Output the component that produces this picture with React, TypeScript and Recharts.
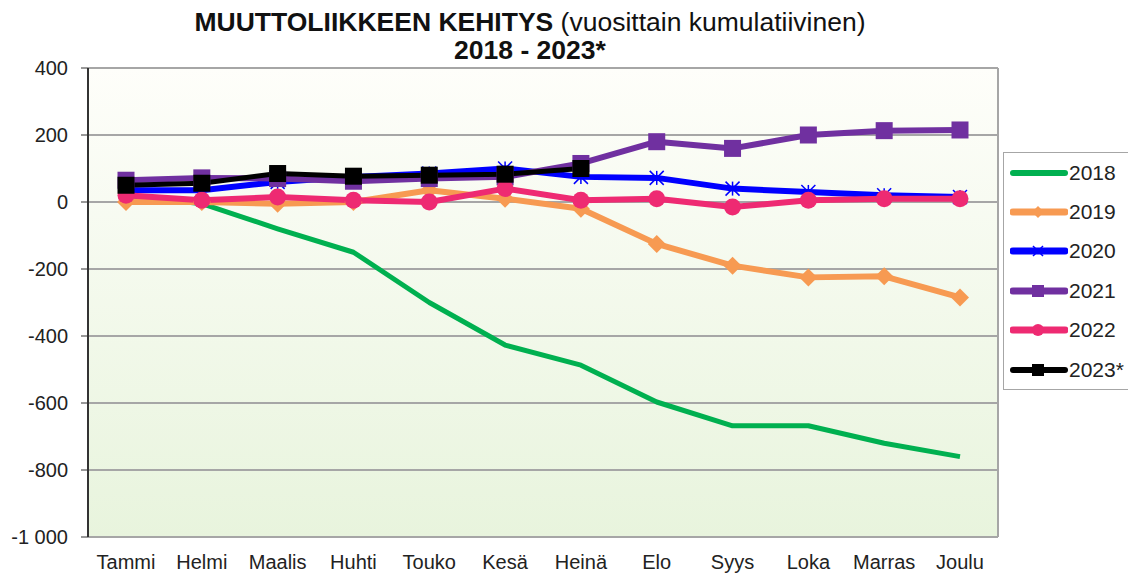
import React from "react";
import { LineChart, Line, XAxis, YAxis, CartesianGrid } from "recharts";

const months = ["Tammi", "Helmi", "Maalis", "Huhti", "Touko", "Kesä", "Heinä", "Elo", "Syys", "Loka", "Marras", "Joulu"];

const y2018 = [20, -5, -80, -150, -300, -427, -487, -597, -668, -668, -720, -760];
const y2019 = [0, 0, -5, 0, 35, 10, -20, -125, -190, -225, -222, -285];
const y2020 = [35, 35, 60, 75, 85, 100, 75, 72, 40, 30, 20, 15];
const y2021 = [65, 72, 70, 62, 70, 75, 115, 180, 160, 200, 213, 215];
const y2022 = [20, 5, 15, 5, 0, 40, 5, 10, -15, 5, 10, 10];
const y2023 = [50, 56, 85, 77, 80, 83, 100, null, null, null, null, null];

const yTicks = [400, 200, 0, -200, -400, -600, -800, -1000];

const data = months.map((m, i) => ({
  month: m,
  "2018": y2018[i],
  "2019": y2019[i],
  "2020": y2020[i],
  "2021": y2021[i],
  "2022": y2022[i],
  "2023*": y2023[i],
}));

const font = "'Liberation Sans', Arial, sans-serif";

const Diamond = (props: any) => {
  const { cx, cy, fill } = props;
  if (cx == null || cy == null || props.value == null) return null;
  const s = 9;
  return <polygon points={`${cx},${cy - s} ${cx + s},${cy} ${cx},${cy + s} ${cx - s},${cy}`} fill={fill} />;
};

const Star = (props: any) => {
  const { cx, cy, stroke } = props;
  if (cx == null || cy == null || props.value == null) return null;
  const s = 7;
  return (
    <g stroke={stroke} strokeWidth={1.5}>
      <line x1={cx - s} y1={cy - s} x2={cx + s} y2={cy + s} />
      <line x1={cx - s} y1={cy + s} x2={cx + s} y2={cy - s} />
      <line x1={cx} y1={cy - s} x2={cx} y2={cy + s} />
    </g>
  );
};

const Square = (props: any) => {
  const { cx, cy, fill } = props;
  if (cx == null || cy == null || props.value == null) return null;
  const s = 8.5;
  return <rect x={cx - s} y={cy - s} width={s * 2} height={s * 2} fill={fill} />;
};

const Circle = (props: any) => {
  const { cx, cy, fill } = props;
  if (cx == null || cy == null || props.value == null) return null;
  return <circle cx={cx} cy={cy} r={8.5} fill={fill} />;
};

const series = [
  { key: "2018", color: "#00b050", width: 5, dot: null as any },
  { key: "2019", color: "#f79a52", width: 6, dot: Diamond },
  { key: "2020", color: "#0000ff", width: 6, dot: Star },
  { key: "2021", color: "#7030a0", width: 6, dot: Square },
  { key: "2022", color: "#ee2a72", width: 6, dot: Circle },
  { key: "2023*", color: "#000000", width: 5, dot: Square },
];

function LegendMark({ s }: { s: any }) {
  const cx = 28;
  const cy = 10;
  return (
    <svg width={58} height={20} style={{ display: "block" }}>
      <line x1={3} y1={cy} x2={55} y2={cy} stroke={s.color} strokeWidth={s.width + 1} strokeLinecap="round" />
      {s.key === "2019" && <polygon points={`${cx},${cy - 6} ${cx + 6},${cy} ${cx},${cy + 6} ${cx - 6},${cy}`} fill={s.color} />}
      {s.key === "2020" && (
        <g stroke={s.color} strokeWidth={1.5}>
          <line x1={cx - 5} y1={cy - 5} x2={cx + 5} y2={cy + 5} />
          <line x1={cx - 5} y1={cy + 5} x2={cx + 5} y2={cy - 5} />
        </g>
      )}
      {(s.key === "2021" || s.key === "2023*") && <rect x={cx - 6} y={cy - 6} width={12} height={12} fill={s.color} />}
      {s.key === "2022" && <circle cx={cx} cy={cy} r={6} fill={s.color} />}
    </svg>
  );
}

export default function App() {
  return (
    <div style={{ position: "absolute", left: 0, top: 0, width: 1128, height: 573, background: "#fff", fontFamily: font }}>
      <svg width={0} height={0} style={{ position: "absolute" }}>
        <defs>
          <linearGradient id="plotBg" x1="0" y1="0" x2="0" y2="1">
            <stop offset="0%" stopColor="#fefefa" />
            <stop offset="100%" stopColor="#e8f4dd" />
          </linearGradient>
        </defs>
      </svg>
      <div style={{ position: "absolute", left: 0, width: 1060, top: 8, textAlign: "center", fontSize: 26.5, lineHeight: "28px", color: "#111" }}>
        <div>
          <b>MUUTTOLIIKKEEN KEHITYS</b> (vuosittain kumulatiivinen)
        </div>
        <div>
          <b>2018 - 2023*</b>
        </div>
      </div>
      <LineChart width={1128} height={573} data={data} margin={{ top: 68, right: 130, bottom: 0, left: 0 }}>
        <CartesianGrid
          fill="url(#plotBg)"
          stroke="#a6a6a6"
          strokeWidth={2}
          vertical={true}
          verticalPoints={[998]}
        />
        <XAxis
          dataKey="month"
          padding={{ left: 38, right: 38 }}
          tickLine={false}
          axisLine={false}
          tickMargin={12}
          height={36}
          tick={{ fontSize: 20, fill: "#222", fontFamily: font }}
          interval={0}
        />
        <YAxis
          domain={[-1000, 400]}
          ticks={yTicks}
          width={88}
          interval={0}
          tickSize={7}
          tickMargin={13}
          stroke="#333"
          axisLine={{ stroke: "#333", strokeWidth: 2 }}
          tick={{ fontSize: 20, fill: "#222", fontFamily: font }}
          tickFormatter={(v: number) => (v === -1000 ? "-1 000" : String(v))}
        />
        {series.map((s) => {
          const DotC = s.dot;
          return (
            <Line
              key={s.key}
              dataKey={s.key}
              type="linear"
              stroke={s.color}
              strokeWidth={s.width}
              strokeLinejoin="round"
              dot={DotC ? (p: any) => <DotC key={p.index} {...p} fill={s.color} stroke={s.color} /> : false}
              activeDot={false}
              isAnimationActive={false}
            />
          );
        })}
      </LineChart>
      <div
        style={{
          position: "absolute",
          left: 1003,
          top: 152,
          width: 140,
          height: 238,
          border: "1.5px solid #a6a6a6",
          background: "#fff",
          boxSizing: "border-box",
          paddingTop: 0,
        }}
      >
        {series.map((s) => (
          <div key={s.key} style={{ display: "flex", alignItems: "center", height: 39.4, paddingLeft: 6 }}>
            <LegendMark s={s} />
            <span style={{ fontSize: 21, color: "#222", marginLeft: 1 }}>{s.key}</span>
          </div>
        ))}
      </div>
    </div>
  );
}
